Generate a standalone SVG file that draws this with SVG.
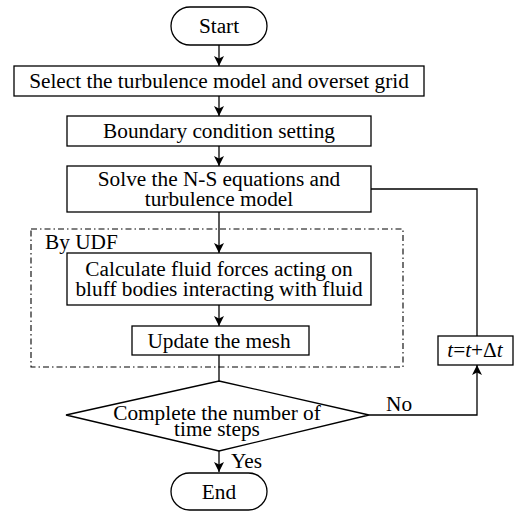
<svg xmlns="http://www.w3.org/2000/svg" width="520" height="511" viewBox="0 0 520 511">
<style>
.n{fill:#fff;stroke:#000;stroke-width:1.3}
.t{font-family:"Liberation Serif","Times New Roman",serif;font-size:21.3px;fill:#000;text-anchor:middle}
.l{font-family:"Liberation Serif","Times New Roman",serif;font-size:21.3px;fill:#000}
.c{fill:none;stroke:#000;stroke-width:1.3}
.dd{fill:none;stroke:#000;stroke-width:1.1;stroke-dasharray:6 3 1.5 3}
</style>
<defs>
<marker id="ah" viewBox="0 0 10 12" refX="10" refY="6" markerWidth="10" markerHeight="12" markerUnits="userSpaceOnUse" orient="auto">
<path d="M0,1 L10,6 L0,11 L2.5,6 Z" fill="#000"/>
</marker>
</defs>
<g id="udf-region">
<rect class="dd" x="31" y="229" width="372" height="138"/>
<text class="l" x="45" y="249">By UDF</text>
</g>
<g id="connectors">
<line class="c" x1="219" y1="45" x2="219" y2="66" marker-end="url(#ah)"/>
<line class="c" x1="219" y1="96" x2="219" y2="116" marker-end="url(#ah)"/>
<line class="c" x1="219" y1="146" x2="219" y2="166" marker-end="url(#ah)"/>
<line class="c" x1="219" y1="212" x2="219" y2="253" marker-end="url(#ah)"/>
<line class="c" x1="219" y1="305" x2="219" y2="326" marker-end="url(#ah)"/>
<line class="c" x1="219" y1="355" x2="219" y2="381"/>
<line class="c" x1="219" y1="451" x2="219" y2="472" marker-end="url(#ah)"/>
<polyline class="c" points="371,189 477,189 477,336"/>
<polyline class="c" points="369,415 477,415 477,365" marker-end="url(#ah)"/>
<text class="l" x="386" y="411">No</text>
<text class="l" x="231" y="468">Yes</text>
</g>
<g id="start">
<rect class="n" x="171" y="7" width="96" height="38" rx="19" ry="19"/>
<text class="t" x="219" y="33">Start</text>
</g>
<g id="select">
<rect class="n" x="14" y="66" width="410" height="30"/>
<text class="t" x="219" y="88">Select the turbulence model and overset grid</text>
</g>
<g id="boundary">
<rect class="n" x="67" y="116" width="304" height="30"/>
<text class="t" x="219" y="138">Boundary condition setting</text>
</g>
<g id="solve">
<rect class="n" x="67" y="166" width="304" height="46"/>
<text class="t" x="219" y="186">Solve the N-S equations and</text>
<text class="t" x="219" y="206">turbulence model</text>
</g>
<g id="calc">
<rect class="n" x="67" y="253" width="304" height="52"/>
<text class="t" x="219" y="276">Calculate fluid forces acting on</text>
<text class="t" x="219" y="296">bluff bodies interacting with fluid</text>
</g>
<g id="update">
<rect class="n" x="132" y="326" width="177" height="29"/>
<text class="t" x="219" y="348">Update the mesh</text>
</g>
<g id="decision">
<polygon class="n" points="219,381 369,415 219,451 66,415"/>
<text class="t" x="217" y="420">Complete the number of</text>
<text class="t" x="217" y="436">time steps</text>
</g>
<g id="increment">
<rect class="n" x="438" y="336" width="75" height="29"/>
<text class="t" x="475" y="357"><tspan font-style="italic">t</tspan>=<tspan font-style="italic">t</tspan>+Δ<tspan font-style="italic">t</tspan></text>
</g>
<g id="end">
<rect class="n" x="171" y="473" width="96" height="37" rx="18.5" ry="18.5"/>
<text class="t" x="219" y="499">End</text>
</g>
</svg>
